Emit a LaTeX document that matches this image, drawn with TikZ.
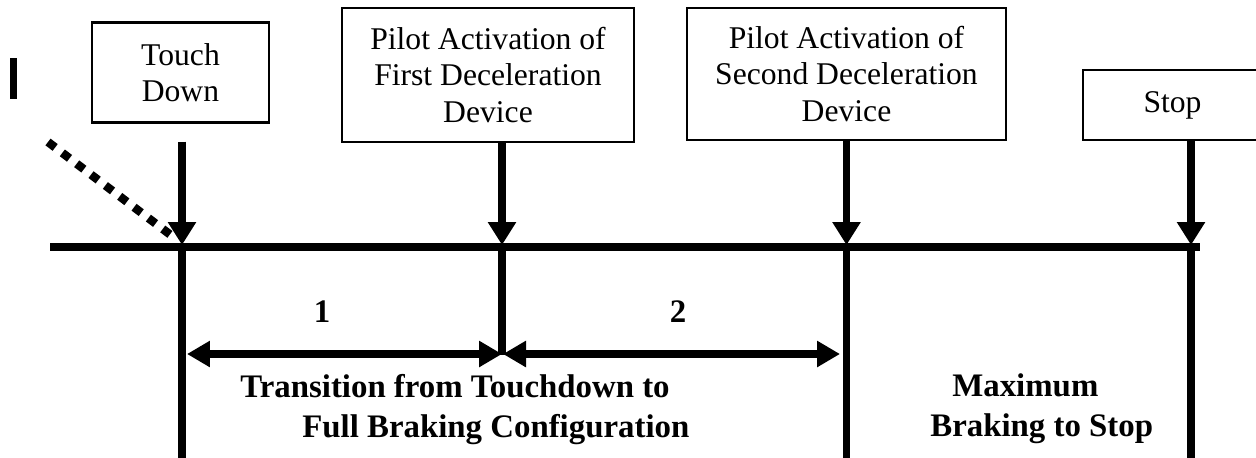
\documentclass[tikz,border=0pt]{standalone}
\usepackage{fontspec}
\setmainfont{Liberation Serif}
\usetikzlibrary{arrows.meta}

\begin{document}
\begin{tikzpicture}[x=0.02cm, y=-0.02cm,
        event/.style={draw, line width=1.4pt, inner sep=0pt, align=center, font=\fontsize{18}{20.5}\selectfont},
        pointer/.style={line width=4.5pt, -{Triangle[width=0.54cm, length=0.46cm]}},
        span/.style={line width=4.5pt, {Triangle[width=0.5cm, length=0.46cm]}-{Triangle[width=0.5cm, length=0.46cm]}},
        phase/.style={inner sep=0pt, align=left, font=\fontsize{18.7}{22.7}\selectfont\bfseries}]

        \useasboundingbox (0,0) rectangle (1256,457);

        % Points on the time line
        \coordinate (t1) at (182,245);
        \coordinate (t2) at (502,245);
        \coordinate (t3) at (846.5,245);
        \coordinate (t4) at (1191,245);
        \coordinate (approach) at (48,142);

        % The small bar in the corner
        \fill (10,58) rectangle (17,99);

        % Event boxes above the time line
        \node[event, minimum width=3.54cm, minimum height=2cm] (td) at (180.5,72.5) {Touch\\Down};
        \node[event, minimum width=5.84cm, minimum height=2.68cm] (first) at (488,75) {Pilot Activation of\\First Deceleration\\Device};
        \node[event, minimum width=6.38cm, minimum height=2.64cm] (second) at (846.5,74) {Pilot Activation of\\Second Deceleration\\Device};
        \node[event, minimum width=3.58cm, minimum height=1.4cm] (stop) at (1172.5,105) {Stop};

        % Draw the time line and the drops below it
        \draw[line width=5pt] (50,247) -- (1200,247);
        \draw[line width=4.5pt] (t1) -- (182,460);
        \draw[line width=4.5pt] (t2) -- (502,355);
        \draw[line width=4.5pt] (t3) -- (846.5,460);
        \draw[line width=4.5pt] (t4) -- (1191,460);

        % Arrows from the events
        \draw[pointer] ([yshift=-0.36cm]td.south -| t1) -- (t1);
        \draw[pointer] (first.south -| t2) -- (t2);
        \draw[pointer] (second.south -| t3) -- (t3);
        \draw[pointer] (stop.south -| t4) -- (t4);
        \draw[line width=4.8pt, dash pattern=on 0.18cm off 0.18cm] (approach) -- ([shift={(-6,-6)}]t1);

        % Phases below the time line
        \node[phase, anchor=base] (n1) at (322,322) {1};
        \node[phase, anchor=base] (n2) at (678,322) {2};
        \draw[span] (187,354) -- (502,354);
        \draw[span] (503,354) -- (840,354);
        \node[phase, anchor=north west] (transition) at (240,374) {Transition from Touchdown to\\\hspace*{1.24cm}Full Braking Configuration};
        \node[phase, anchor=north west] (braking) at (930,373) {\hspace*{0.44cm}Maximum\\Braking to Stop};

    \end{tikzpicture}
\end{document}
